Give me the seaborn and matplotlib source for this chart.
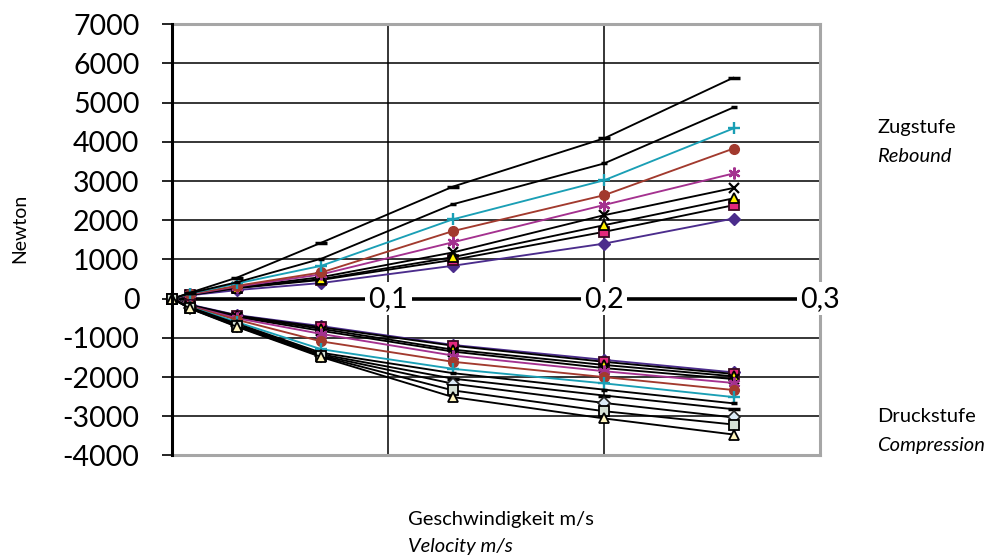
import matplotlib
matplotlib.use("Agg")
import matplotlib.pyplot as plt
import seaborn as sns
import pandas as pd

# ---------------- data ----------------
velocity = [0, 0.008, 0.03, 0.069, 0.13, 0.2, 0.26]

# Zugstufe / Rebound
reb_longdash  = [0, 150, 540, 1430, 2860, 4090, 5640]
reb_shortdash = [0, 140, 420, 1020, 2410, 3450, 4880]
reb_plus      = [0, 130, 390, 840, 2025, 3020, 4345]
reb_circle    = [0, 120, 330, 670, 1725, 2640, 3830]
reb_star      = [0, 110, 310, 620, 1440, 2390, 3195]
reb_x         = [0, 100, 290, 550, 1180, 2130, 2825]
reb_triangle  = [0, 100, 280, 500, 1060, 1875, 2560]
reb_square    = [0, 95, 270, 480, 990, 1705, 2385]
reb_diamond   = [0, 85, 220, 400, 840, 1405, 2045]

# Druckstufe / Compression
com_diamond   = [0, -150, -420, -700, -1180, -1560, -1880]
com_square    = [0, -160, -430, -730, -1200, -1610, -1920]
com_triangle  = [0, -170, -450, -770, -1300, -1690, -1980]
com_x         = [0, -175, -470, -820, -1350, -1770, -2050]
com_star      = [0, -185, -500, -900, -1450, -1850, -2150]
com_circle    = [0, -195, -540, -1090, -1610, -2000, -2330]
com_plus      = [0, -210, -600, -1290, -1790, -2160, -2510]
com_shortdash = [0, -220, -640, -1380, -1900, -2320, -2670]
com_longdash  = [0, -230, -660, -1420, -2040, -2470, -2820]
com_diamond2  = [0, -240, -690, -1450, -2170, -2660, -3030]
com_square2   = [0, -245, -705, -1470, -2340, -2870, -3210]
com_triangle2 = [0, -250, -720, -1490, -2510, -3055, -3465]

y_ticks = [-4000, -3000, -2000, -1000, 0, 1000, 2000, 3000, 4000, 5000, 6000, 7000]
x_labels = ["0,1", "0,2", "0,3"]
x_label_pos = [0.1, 0.2, 0.3]

series = {
    "reb_diamond": reb_diamond, "reb_square": reb_square, "reb_triangle": reb_triangle,
    "reb_x": reb_x, "reb_star": reb_star, "reb_circle": reb_circle, "reb_plus": reb_plus,
    "reb_shortdash": reb_shortdash, "reb_longdash": reb_longdash,
    "com_diamond": com_diamond, "com_square": com_square, "com_triangle": com_triangle,
    "com_x": com_x, "com_star": com_star, "com_circle": com_circle, "com_plus": com_plus,
    "com_shortdash": com_shortdash, "com_longdash": com_longdash,
    "com_diamond2": com_diamond2, "com_square2": com_square2, "com_triangle2": com_triangle2,
}

rows = []
for name, vals in series.items():
    for v, f in zip(velocity, vals):
        rows.append({"series": name, "velocity": v, "force": f})
df = pd.DataFrame(rows)

# ---------------- styles ----------------
PURPLE = "#4B2C8C"
PINK = "#E3287C"
YELLOW = "#FFF200"
MAGENTA = "#A4318F"
BROWN = "#A23A2E"
TEAL = "#1A9FB5"
ASTER = (6, 2, 0)

style_of = {
    "diamond":   dict(color=PURPLE, marker="D", ms=6.5, mfc=PURPLE, mec=PURPLE, mew=1.0),
    "square":    dict(color="black", marker="s", ms=6.5, mfc=PINK, mec="#3A0A22", mew=1.3),
    "triangle":  dict(color="black", marker="^", ms=7.5, mfc=YELLOW, mec="black", mew=1.3),
    "x":         dict(color="black", marker="x", ms=7, mfc="black", mec="black", mew=1.6),
    "star":      dict(color=MAGENTA, marker=ASTER, ms=8.5, mfc=MAGENTA, mec=MAGENTA, mew=1.6),
    "circle":    dict(color=BROWN, marker="o", ms=7, mfc=BROWN, mec=BROWN, mew=1.0),
    "plus":      dict(color=TEAL, marker="+", ms=8.5, mfc=TEAL, mec=TEAL, mew=1.7),
    "shortdash": dict(color="black", marker="_", ms=5, mfc="black", mec="black", mew=2.5),
    "longdash":  dict(color="black", marker="_", ms=8, mfc="black", mec="black", mew=2.5),
    "diamond2":  dict(color="black", marker="D", ms=6, mfc="#DCEBF7", mec="#222222", mew=1.2),
    "square2":   dict(color="black", marker="s", ms=6.5, mfc="#D5E0D5", mec="black", mew=1.3),
    "triangle2": dict(color="black", marker="^", ms=7.5, mfc="#FFF6C0", mec="black", mew=1.3),
}

sns.set_theme(style="white")
plt.rcParams["font.family"] = ["Lato", "DejaVu Sans"]
plt.rcParams["text.color"] = "black"
plt.rcParams["axes.labelcolor"] = "black"

fig = plt.figure(figsize=(9.97, 5.58), dpi=100)
ax = fig.add_axes([0.173, 0.1837, 0.6494, 0.7728])

for name in series:
    kind = name.split("_", 1)[1]
    st = style_of[kind]
    sub = df[df["series"] == name]
    sns.lineplot(data=sub, x="velocity", y="force", ax=ax, estimator=None, sort=False,
                 color=st["color"], marker=st["marker"], markersize=st["ms"],
                 markerfacecolor=st["mfc"], markeredgecolor=st["mec"],
                 markeredgewidth=st["mew"], linewidth=1.35, legend=False, zorder=3,
                 clip_on=False)

ax.set_xlim(0, 0.3)
ax.set_ylim(-4000, 7000)

# grid lines
for yv in y_ticks:
    if yv != 0:
        ax.axhline(yv, color="black", lw=1.1, zorder=1)
for xv in [0.1, 0.2]:
    ax.axvline(xv, color="black", lw=1.1, zorder=1)
ax.axhline(0, color="black", lw=2.6, zorder=2)

for xp, lab in zip(x_label_pos, x_labels):
    ax.text(xp, 0, lab, ha="center", va="center", fontsize=20.5, zorder=5,
            clip_on=False,
            bbox=dict(boxstyle="square,pad=0.12", fc="white", ec="none"))

ax.set_yticks(y_ticks)
ax.set_yticklabels([str(v) for v in y_ticks])
ax.set_xticks([])
ax.tick_params(axis="y", left=True, direction="out", length=7.2, width=1.2,
               color="black", pad=16.5, labelsize=20.5, labelcolor="black")
ax.set_xlabel("")
ax.set_ylabel("")

for side in ["top", "right", "bottom"]:
    ax.spines[side].set_color("#A6A6A6")
    ax.spines[side].set_linewidth(2.2)
ax.spines["left"].set_color("black")
ax.spines["left"].set_linewidth(2.2)
ax.spines["left"].set_zorder(4)

def fy(py):
    return 1 - py / 558

fig.text(20 / 997, fy(228), "Newton", rotation=90, ha="center", va="center", fontsize=14)
fig.text(877 / 997, fy(133), "Zugstufe", fontsize=14.5, va="baseline")
fig.text(877 / 997, fy(162), "Rebound", fontsize=14.5, style="italic", va="baseline")
fig.text(877 / 997, fy(422), "Druckstufe", fontsize=14.5, va="baseline")
fig.text(877 / 997, fy(451), "Compression", fontsize=14.5, style="italic", va="baseline")
fig.text(408 / 997, fy(525), "Geschwindigkeit m/s", fontsize=14.5, va="baseline")
fig.text(408 / 997, fy(552), "Velocity m/s", fontsize=14.5, style="italic", va="baseline")

fig.savefig("out.png", dpi=100)
